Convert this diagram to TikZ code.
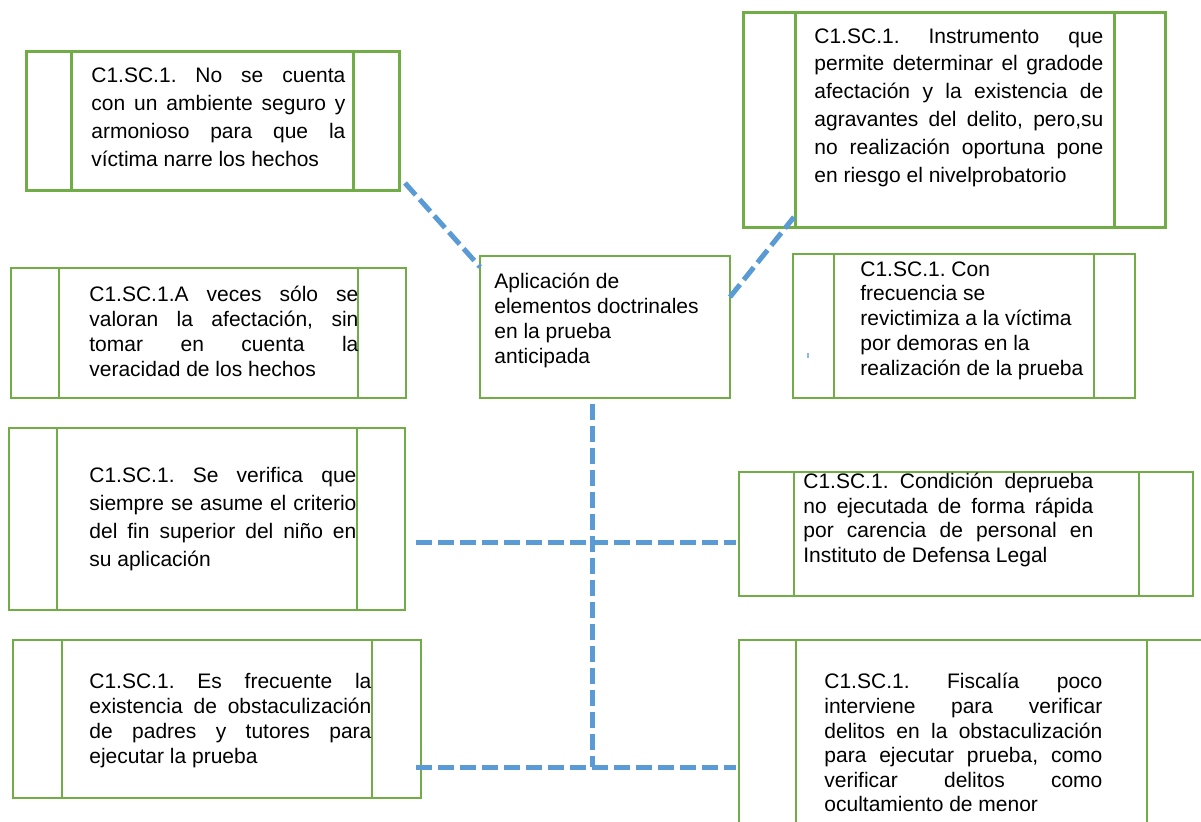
\documentclass[tikz,border=0pt]{standalone}
\usepackage{fontspec}
\setmainfont{Liberation Sans}
\usepackage{tikz}
\usetikzlibrary{calc}
\definecolor{framegreen}{RGB}{112, 173, 71}
\definecolor{linkblue}{RGB}{91, 155, 213}
\setlength\parindent{0pt}
\frenchspacing
\hyphenpenalty=10000
\exhyphenpenalty=10000
\tolerance=10000

\begin{document}
\begin{tikzpicture}[
    x=0.5pt, y=-0.5pt,
    panel/.style={draw=framegreen, line width=1pt, rectangle, inner sep=0pt, outer sep=0pt},
    heavy/.style={line width=1.5pt},
    divider/.style={draw=framegreen, line width=1pt},
    txt/.style={inner sep=0pt, anchor=north west, font=\fontsize{10.5pt}{12.4pt}\selectfont},
    loose/.style={font=\fontsize{10.5pt}{14pt}\selectfont},
    just/.style={align=justify},
    link/.style={draw=linkblue, line width=2.5pt, dash pattern=on 8pt off 3pt}
]
    \useasboundingbox (0,0) rectangle (1201,821);
    \clip (0,0) rectangle (1201,821);

    % Boxes
    \node[panel, heavy, minimum width=186.5pt, minimum height=69.5pt] (b1) at (212.5,120.5) {};
    \node[panel, minimum width=197.5pt, minimum height=65pt] (b2) at (208.5,333) {};
    \node[panel, minimum width=125pt, minimum height=71pt] (cen) at (605,327) {};
    \node[panel, heavy, minimum width=211pt, minimum height=107.5pt] (b3) at (954,119.5) {};
    \node[panel, minimum width=171pt, minimum height=72pt] (b4) at (964,326) {};
    \node[panel, minimum width=198pt, minimum height=91pt] (b5) at (207,519) {};
    \node[panel, minimum width=204pt, minimum height=79pt] (b6) at (217,719) {};
    \node[panel, minimum width=227pt, minimum height=62pt] (b7) at (966,534) {};
    \node[panel, minimum width=245.5pt, minimum height=100pt] (b8) at (984.5,740) {};

    % Side columns
    \draw[divider, heavy] ([xshift=22.5pt]b1.north west) -- ([xshift=22.5pt]b1.south west);
    \draw[divider, heavy] ([xshift=-23pt]b1.north east) -- ([xshift=-23pt]b1.south east);
    \draw[divider] ([xshift=24pt]b2.north west) -- ([xshift=24pt]b2.south west);
    \draw[divider] ([xshift=-24pt]b2.north east) -- ([xshift=-24pt]b2.south east);
    \draw[divider, heavy] ([xshift=26pt]b3.north west) -- ([xshift=26pt]b3.south west);
    \draw[divider, heavy] ([xshift=-25.5pt]b3.north east) -- ([xshift=-25.5pt]b3.south east);
    \draw[divider] ([xshift=20.5pt]b4.north west) -- ([xshift=20.5pt]b4.south west);
    \draw[divider] ([xshift=-20.5pt]b4.north east) -- ([xshift=-20.5pt]b4.south east);
    \draw[divider] ([xshift=24pt]b5.north west) -- ([xshift=24pt]b5.south west);
    \draw[divider] ([xshift=-24pt]b5.north east) -- ([xshift=-24pt]b5.south east);
    \draw[divider] ([xshift=24.5pt]b6.north west) -- ([xshift=24.5pt]b6.south west);
    \draw[divider] ([xshift=-24.5pt]b6.north east) -- ([xshift=-24.5pt]b6.south east);
    \draw[divider] ([xshift=27.5pt]b7.north west) -- ([xshift=27.5pt]b7.south west);
    \draw[divider] ([xshift=-27.25pt]b7.north east) -- ([xshift=-27.25pt]b7.south east);
    \draw[divider] ([xshift=28.25pt]b8.north west) -- ([xshift=28.25pt]b8.south west);
    \draw[divider] ([xshift=-41.5pt]b8.north east) -- ([xshift=-41.5pt]b8.south east);

    % Texts
    \node[txt, loose, just, text width=127pt] (t1) at (91,67) {C1.SC.1. No se cuenta\linebreak con un ambiente seguro y\linebreak armonioso para que la\linebreak víctima narre los hechos};
    \node[txt, just, text width=134.5pt] (t2) at (89,286) {C1.SC.1.A veces sólo se\linebreak valoran la afectación, sin\linebreak tomar en cuenta la\linebreak veracidad de los hechos};
    \node[txt, align=left] (tc) at (494,273) {Aplicación de\\elementos doctrinales\\en la prueba\\anticipada};
    \node[txt, font=\fontsize{10.5pt}{13.9pt}\selectfont, just, text width=144.5pt] (t3) at (814,28) {C1.SC.1. Instrumento que\linebreak permite determinar el gradode\linebreak afectación y la existencia de\linebreak agravantes del delito, pero,su\linebreak no realización oportuna pone\linebreak en riesgo el nivelprobatorio};
    \node[txt, align=left] (t4) at (860,261) {C1.SC.1. Con\\frecuencia se\\revictimiza a la víctima\\por demoras en la\\realización de la prueba};
    \node[txt, loose, just, text width=133.5pt] (t5) at (89,467) {C1.SC.1. Se verifica que\linebreak siempre se asume el criterio\linebreak del fin superior del niño en\linebreak su aplicación};
    \node[txt, just, text width=141pt] (t6) at (89,673) {C1.SC.1. Es frecuente la\linebreak existencia de obstaculización\linebreak de padres y tutores para\linebreak ejecutar la prueba};
    \node[txt, font=\fontsize{10.5pt}{12.2pt}\selectfont, just, text width=145pt] (t7) at (803,473) {C1.SC.1. Condición deprueba\linebreak no ejecutada de forma rápida\linebreak por carencia de personal en\linebreak Instituto de Defensa Legal};
    \node[txt, font=\fontsize{10.5pt}{12.3pt}\selectfont, just, text width=139pt] (t8) at (824,673) {C1.SC.1. Fiscalía poco\linebreak interviene para verificar\linebreak delitos en la obstaculización\linebreak para ejecutar prueba, como\linebreak verificar delitos como\linebreak ocultamiento de menor};

    % Connections
    \draw[link] ($(b1.south east)+(6,-7)$) -- ($(cen.north west)+(0,11)$);
    \draw[link] ($(cen.north east)+(0,41)$) -- ($(b3.south west)+(51,-10)$);
    \draw[link] ($(cen.south)+(-13,6)$) -- ($(cen.south)+(-13,369)$);
    \draw[link] ($(b5.east)+(11,23)$) -- ($(b7.west)+(-3,8)$);
    \draw[link] ($(b6.east)+(-5,48)$) -- ($(b8.west)+(-3,27)$);

    % stray mark
    \draw[linkblue!70, line width=0.6pt] ($(b4.south west)+(15,-45)$) -- ++(0,5);
\end{tikzpicture}
\end{document}
